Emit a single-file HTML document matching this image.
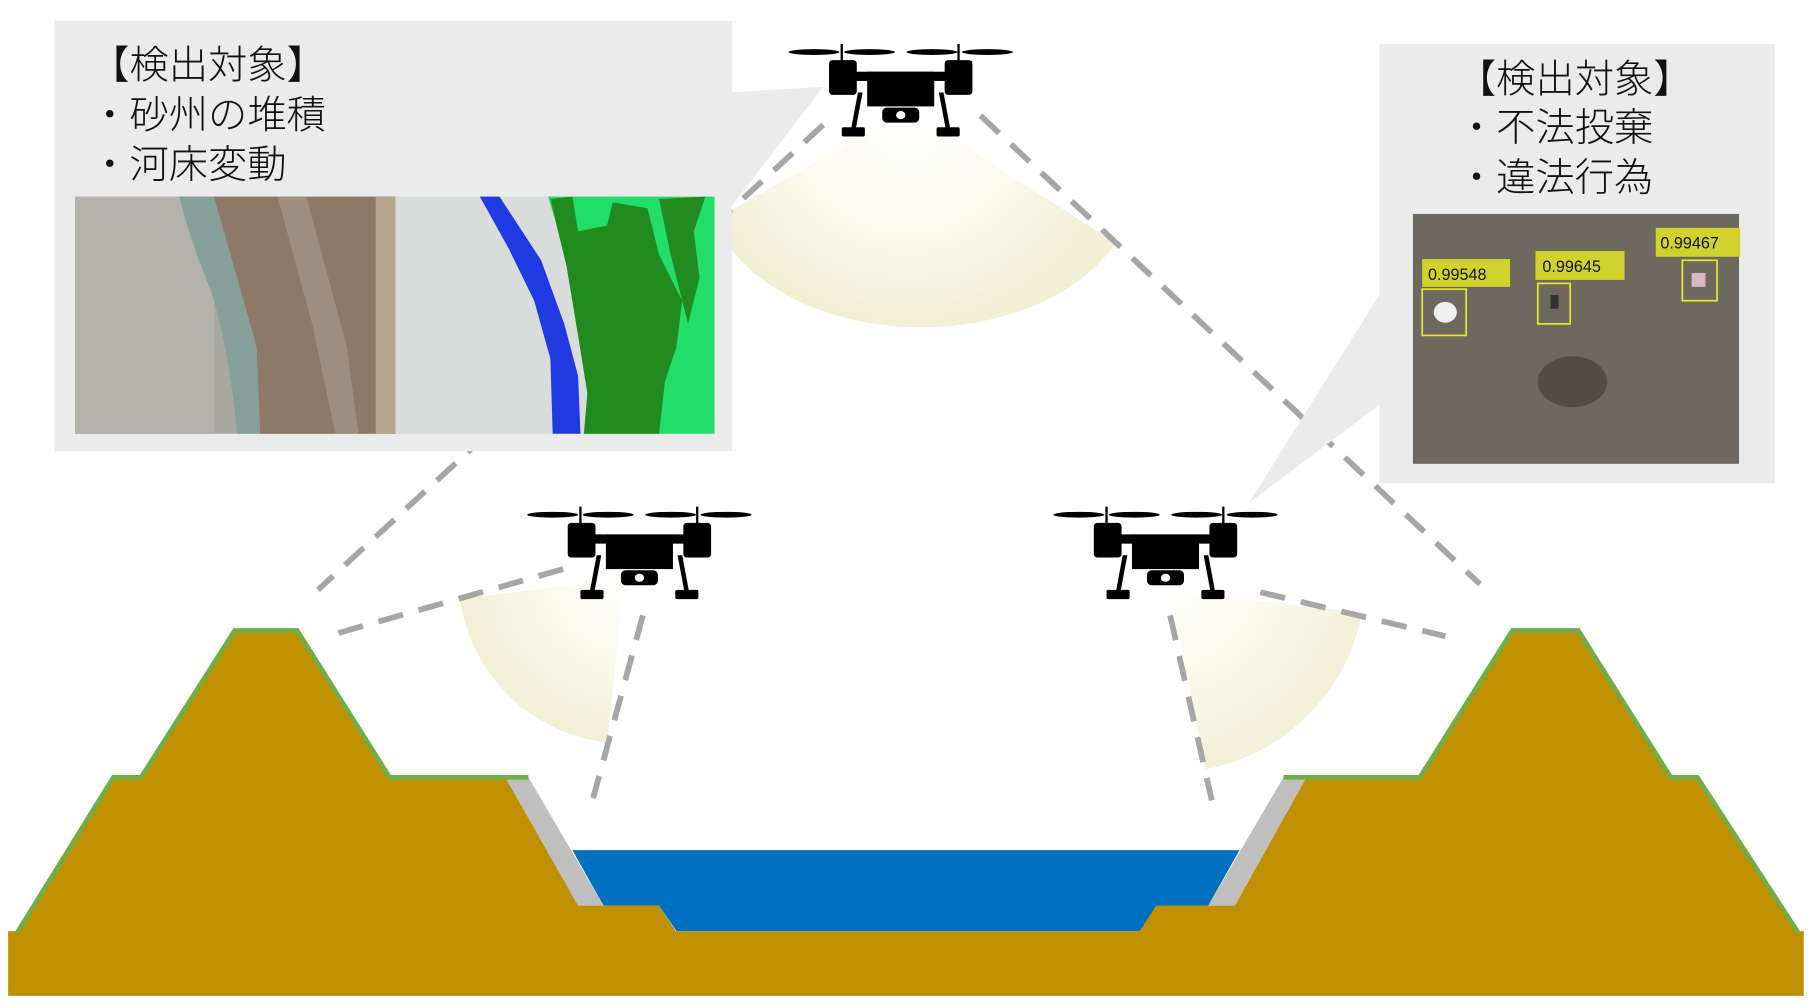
<!DOCTYPE html>
<html><head><meta charset="utf-8"><style>
html,body{margin:0;padding:0;background:#fff}
svg{display:block}
text{font-family:"Liberation Sans","Noto Sans CJK JP",sans-serif;font-weight:300}
</style></head><body>
<svg width="1813" height="1004" viewBox="0 0 1568 868" preserveAspectRatio="none" xmlns="http://www.w3.org/2000/svg">
<defs>
<g id="drone">
<ellipse cx="-75" cy="7" rx="22" ry="2.5"/><ellipse cx="-27" cy="7" rx="22" ry="2.5"/>
<ellipse cx="27" cy="7" rx="22" ry="2.5"/><ellipse cx="75" cy="7" rx="22" ry="2.5"/>
<rect x="-52" y="0" width="2" height="16"/><rect x="49" y="0" width="2" height="16"/>
<rect x="-62" y="14" width="24" height="30" rx="3"/><rect x="38" y="14" width="24" height="30" rx="3"/>
<rect x="-40" y="24" width="80" height="8"/>
<rect x="-29" y="24" width="58" height="30"/>
<rect x="-16" y="55" width="32" height="13" rx="4"/><ellipse cx="0" cy="61.5" rx="4" ry="3.5" fill="#fff"/>
<polygon points="-37,42 -33,42 -39,74 -43,74"/><polygon points="33,42 37,42 43,74 39,74"/>
<rect x="-51" y="72" width="20" height="8" rx="1.5"/><rect x="31" y="72" width="20" height="8" rx="1.5"/>
</g>
<radialGradient id="cgTop" gradientUnits="userSpaceOnUse" cx="785" cy="95" r="185"><stop offset="0" stop-color="#fff"/><stop offset="0.55" stop-color="#fbfbef"/><stop offset="1" stop-color="#f1efd4"/></radialGradient>
<radialGradient id="cgL" gradientUnits="userSpaceOnUse" cx="540" cy="500" r="145"><stop offset="0" stop-color="#fff"/><stop offset="0.4" stop-color="#fbfbef"/><stop offset="1" stop-color="#f1efd4"/></radialGradient>
<radialGradient id="cgR" gradientUnits="userSpaceOnUse" cx="1012" cy="500" r="175"><stop offset="0" stop-color="#fff"/><stop offset="0.4" stop-color="#fbfbef"/><stop offset="1" stop-color="#f1efd4"/></radialGradient>
</defs>

<path d="M785,95 L618,190 A185,125 0 0 0 965,210 Z" fill="url(#cgTop)"/>
<path d="M540,500 L398,518 A145,145 0 0 0 525,642 Z" fill="url(#cgL)"/>
<path d="M1012,510 L1178,530 A170,170 0 0 1 1043,665 Z" fill="url(#cgR)"/>

<g stroke="#a6a6a6" stroke-width="5" stroke-dasharray="22,14" fill="none">
<line x1="712" y1="108" x2="275" y2="510"/>
<line x1="848" y1="100" x2="1280" y2="505"/>
<line x1="487" y1="492" x2="290" y2="548"/>
<line x1="556" y1="532" x2="513" y2="690"/>
<line x1="1090" y1="512" x2="1250" y2="550"/>
<line x1="1012" y1="532" x2="1048" y2="692"/>
</g>

<polygon points="630,80 712,75 620,195 630,195" fill="#ebebeb"/>
<rect x="47" y="18" width="586" height="372" fill="#ebebeb"/>
<text x="78" y="68" font-size="34" fill="#111">【検出対象】</text>
<text x="78" y="111" font-size="34" fill="#111">・砂州の堆積</text>
<text x="78" y="154" font-size="34" fill="#111">・河床変動</text>
<rect x="65" y="170" width="277" height="205" fill="#a9a7a1"/>
<rect x="65" y="170" width="120" height="205" fill="#b3b2ad"/>
<path d="M155,170 L185,170 Q205,240 222,300 L225,375 L205,375 Q198,300 182,250 Q165,210 155,170Z" fill="#84a099"/>
<path d="M185,170 L342,170 L342,375 L225,375 L222,300 Q205,240 185,170Z" fill="#8d7a66"/>
<path d="M240,170 L265,170 L300,300 L310,375 L290,375 L270,280Z" fill="#a89b8e" opacity="0.6"/>
<rect x="325" y="170" width="17" height="205" fill="#b5a68e"/>
<rect x="342" y="170" width="276" height="205" fill="#d9dcdb"/>
<path d="M474,170 L618,170 L618,375 L505,375 L508,340 L500,290 L490,230 L480,190Z" fill="#22dd6a"/>
<path d="M476,172 L495,170 L500,200 L525,195 L530,175 L560,180 L570,220 L590,260 L585,300 L575,330 L570,375 L505,375 L508,340 L500,290 L490,230 Z" fill="#228b1f"/>
<path d="M570,172 L610,170 L600,200 L605,240 L595,280 L590,260 L580,220Z" fill="#228b1f"/>
<path d="M415,170 L432,170 L468,225 L488,280 L500,325 L502,375 L478,375 L476,310 L462,260 L440,215Z" fill="#1f3ae3"/>

<polygon points="1193,255 1193,350 1080,435" fill="#ebebeb"/>
<rect x="1193" y="38" width="342" height="380" fill="#ebebeb"/>
<text x="1260" y="80" font-size="34" fill="#111">【検出対象】</text>
<text x="1260" y="122" font-size="34" fill="#111">・不法投棄</text>
<text x="1260" y="165" font-size="34" fill="#111">・違法行為</text>
<rect x="1222" y="185" width="282" height="216" fill="#6e695f"/>
<ellipse cx="1360" cy="330" rx="30" ry="22" fill="#524c43"/>
<g font-family="Liberation Mono,monospace" font-size="14" fill="#111">
<rect x="1230" y="224" width="76" height="24" fill="#d2d22c"/><text x="1235" y="242">0.99548</text>
<rect x="1230" y="250" width="38" height="40" fill="none" stroke="#e6e62a" stroke-width="1.5"/>
<ellipse cx="1250" cy="270" rx="10" ry="9" fill="#eee"/>
<rect x="1328" y="217" width="77" height="25" fill="#d2d22c"/><text x="1334" y="235">0.99645</text>
<rect x="1330" y="245" width="28" height="35" fill="none" stroke="#e6e62a" stroke-width="1.5"/>
<rect x="1341" y="255" width="7" height="12" fill="#333"/>
<rect x="1432" y="197" width="73" height="25" fill="#d2d22c"/><text x="1436" y="215">0.99467</text>
<rect x="1455" y="225" width="30" height="35" fill="none" stroke="#e6e62a" stroke-width="1.5"/>
<rect x="1463" y="236" width="12" height="12" fill="#d8b8c0"/>
</g>

<use href="#drone" transform="translate(779,38)"/>
<use href="#drone" transform="translate(553,438)"/>
<use href="#drone" transform="translate(1008,438)"/>

<polygon points="495,735 1072,735 1045,783 985,805 585,805 570,783 522,783" fill="#0070c0"/>
<polygon points="437,672 457,672 522,783 500,783" fill="#bfbfbf"/>
<polygon points="1110,672 1130,672 1068,783 1045,783" fill="#bfbfbf"/>
<rect x="7" y="805" width="1553" height="56" fill="#bf9000"/>
<polygon points="15,806 98,672 122,672 203,545 257,545 337,672 437,672 500,783 570,783 585,806" fill="#bf9000"/>
<polygon points="985,806 1000,783 1068,783 1130,672 1228,672 1308,545 1365,545 1445,672 1468,672 1555,806" fill="#bf9000"/>
<g stroke="#70ad47" stroke-width="4" fill="none">
<polyline points="15,806 98,672 122,672 203,545 257,545 337,672 457,672"/>
<polyline points="1110,672 1228,672 1308,545 1365,545 1445,672 1468,672 1555,806"/>
</g>
</svg>
</body></html>
